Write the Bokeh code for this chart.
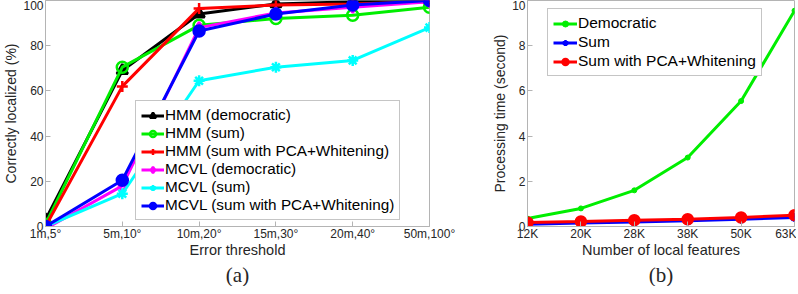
from bokeh.plotting import figure
from bokeh.layouts import row
from bokeh.models import (FixedTicker, Range1d, Legend, LegendItem, Title)
from bokeh.embed import file_html
from bokeh.resources import INLINE

# ---------- data (a) ----------
thresholds = ["1m,5°", "5m,10°", "10m,20°", "15m,30°", "20m,40°", "50m,100°"]
hmm_dem = [3, 69, 94, 98.5, 99.5, 100]
hmm_sum = [1, 70.5, 89, 92, 93.5, 97]
hmm_pca = [0, 62, 96.5, 98, 98.5, 99.5]
mcvl_dem = [-1, 18, 88, 94.5, 97, 99.5]
mcvl_sum = [0, 14.5, 64.5, 70.5, 73.5, 88]
mcvl_pca = [0, 20.5, 86.5, 94, 98, 100]
yticks_a = [0, 20, 40, 60, 80, 100]

# ---------- data (b) ----------
features = ["12K", "20K", "28K", "38K", "50K", "63K"]
t_dem = [0.35, 0.8, 1.6, 3.05, 5.55, 9.55]
t_sum = [0.1, 0.15, 0.2, 0.25, 0.32, 0.4]
t_pca = [0.18, 0.22, 0.28, 0.32, 0.4, 0.5]
yticks_b = [0, 2, 4, 6, 8, 10]

FONT = "Liberation Sans"
AXC = "#b4b4b4"
TXT = "#262626"
H = 286


def style(p, xlabels, yticks, xlabel, ylabel, caption):
    xs = list(range(len(xlabels)))
    p.title.visible = False
    p.xaxis.ticker = FixedTicker(ticks=xs)
    p.xaxis.major_label_overrides = {i: l for i, l in enumerate(xlabels)}
    p.yaxis.ticker = FixedTicker(ticks=yticks)
    p.xaxis.axis_label = xlabel
    p.yaxis.axis_label = ylabel
    for ax in [p.xaxis[0], p.yaxis[0]]:
        ax.axis_line_color = AXC
        ax.major_tick_line_color = AXC
        ax.minor_tick_line_color = None
        ax.major_tick_in = 5
        ax.major_tick_out = 0
        ax.major_label_text_font = FONT
        ax.major_label_text_font_size = "12px"
        ax.major_label_text_color = TXT
        ax.axis_label_text_font = FONT
        ax.axis_label_text_font_style = "normal"
        ax.axis_label_text_color = TXT
    p.xaxis.axis_label_text_font_size = "14.5px"
    p.yaxis.axis_label_text_font_size = "14px"
    p.xaxis.major_label_standoff = 0
    p.xaxis.axis_label_standoff = -2
    p.yaxis.major_label_standoff = 2
    p.yaxis.axis_label_standoff = 1
    p.grid.visible = False
    p.outline_line_color = AXC
    p.add_layout(Title(text=caption, align="center", text_font="Liberation Serif",
                       text_font_size="21px", text_font_style="normal",
                       text_color=TXT, standoff=0), "below")


# ---------- figure (a) ----------
pa = figure(width=468, height=H, output_backend="svg", toolbar_location=None,
            x_range=Range1d(0, 5), y_range=Range1d(0, 100),
            min_border_left=38, min_border_right=39, min_border_top=0,
            min_border_bottom=0)
style(pa, thresholds, yticks_a, "Error threshold", "Correctly localized (%)", "(a)")

xs = list(range(len(thresholds)))
series_a = [
    ("HMM (democratic)", hmm_dem, "black", "triangle", "black"),
    ("HMM (sum)", hmm_sum, "#00ee00", "circle", None),
    ("HMM (sum with PCA+Whitening)", hmm_pca, "#ff0000", "cross", None),
    ("MCVL (democratic)", mcvl_dem, "#ff00ff", "diamond", None),
    ("MCVL (sum)", mcvl_sum, "#00ffff", "asterisk", None),
    ("MCVL (sum with PCA+Whitening)", mcvl_pca, "#0000ff", "circle", "#0000ff"),
]
items = []
for label, ys, col, mk, fill in series_a:
    lr = pa.line(xs, ys, line_color=col, line_width=3)
    sr = pa.scatter(xs, ys, marker=mk, size=11, line_color=col, line_width=2.5,
                    fill_color=fill if fill else None)
    items.append(LegendItem(label=label, renderers=[lr, sr]))
leg_a = Legend(items=items, location=(90, 6), label_text_font=FONT,
               label_text_font_size="15.3px", label_text_color="black",
               label_height=15, glyph_height=15, glyph_width=23,
               label_standoff=1, spacing=0, padding=5, margin=0,
               border_line_color="#8c8c8c", background_fill_alpha=1)
pa.add_layout(leg_a, "center")

# ---------- figure (b) ----------
pb = figure(width=328, height=H, output_backend="svg", toolbar_location=None,
            x_range=Range1d(0, 5), y_range=Range1d(0, 10),
            min_border_left=59, min_border_right=2, min_border_top=0,
            min_border_bottom=0)
style(pb, features, yticks_b, "Number of local features", "Processing time (second)", "(b)")

series_b = [
    ("Democratic", t_dem, "#00ee00", "dot", 10, "#00ee00"),
    ("Sum", t_sum, "#0000ff", "asterisk", 9, "#0000ff"),
    ("Sum with PCA+Whitening", t_pca, "#ff0000", "circle", 10, "#ff0000"),
]
items_b = []
for label, ys, col, mk, sz, fill in series_b:
    lr = pb.line(xs, ys, line_color=col, line_width=3)
    if mk == "dot":
        sr = pb.scatter(xs, ys, marker="circle", size=5, line_color=col, fill_color=col)
    else:
        sr = pb.scatter(xs, ys, marker=mk, size=sz, line_color=col, line_width=2.5,
                        fill_color=fill)
    items_b.append(LegendItem(label=label, renderers=[lr, sr]))
leg_b = Legend(items=items_b, location=(20, 150), label_text_font=FONT,
               label_text_font_size="15.5px", label_text_color="black",
               label_height=15, glyph_height=15, glyph_width=24,
               label_standoff=1, spacing=1, padding=5, margin=0,
               border_line_color="#8c8c8c", background_fill_alpha=1)
pb.add_layout(leg_b, "center")

layout = row(pa, pb, spacing=0)
open("out.html", "w").write(file_html(layout, INLINE))
